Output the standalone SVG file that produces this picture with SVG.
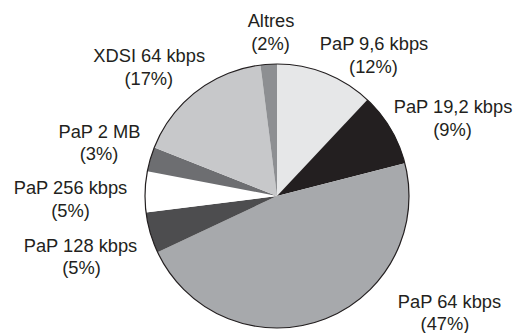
<svg xmlns="http://www.w3.org/2000/svg" width="518" height="333" viewBox="0 0 518 333">
<style>
text{font-family:"Liberation Sans",Arial,sans-serif;font-size:18.3px;fill:#231f20;text-anchor:middle}
.s{stroke:none}
</style>
<rect width="518" height="333" fill="#ffffff"/>
<g id="pie">
<g id="slice-pap96"><path class="s" fill="#e6e7e8" d="M277,196 L277,64 A132,132 0 0 1 367.36,99.78 Z"/></g>
<g id="slice-pap192"><path class="s" fill="#231f20" d="M277,196 L367.36,99.78 A132,132 0 0 1 404.85,163.17 Z"/></g>
<g id="slice-pap64"><path class="s" fill="#a7a9ac" d="M277,196 L404.85,163.17 A132,132 0 0 1 157.56,252.2 Z"/></g>
<g id="slice-pap128"><path class="s" fill="#4d4d4f" d="M277,196 L157.56,252.2 A132,132 0 0 1 146.04,212.54 Z"/></g>
<g id="slice-pap256"><path class="s" fill="#ffffff" d="M277,196 L146.04,212.54 A132,132 0 0 1 147.34,171.27 Z"/></g>
<g id="slice-pap2mb"><path class="s" fill="#6d6e71" d="M277,196 L147.34,171.27 A132,132 0 0 1 154.27,147.41 Z"/></g>
<g id="slice-xdsi"><path class="s" fill="#c7c8ca" d="M277,196 L154.27,147.41 A132,132 0 0 1 260.46,65.04 Z"/></g>
<g id="slice-altres"><path class="s" fill="#8d8f92" d="M277,196 L260.46,65.04 A132,132 0 0 1 277,64 Z"/></g>
<circle cx="277" cy="196" r="132" fill="none" stroke="#231f20" stroke-width="1.2"/>
</g>
<g id="labels">
<g id="label-altres"><text x="271" y="27">Altres</text><text x="270.5" y="50">(2%)</text></g>
<g id="label-pap96"><text x="374" y="50">PaP 9,6 kbps</text><text x="373.5" y="72.5">(12%)</text></g>
<g id="label-pap192"><text x="453" y="113">PaP 19,2 kbps</text><text x="452.5" y="135.5">(9%)</text></g>
<g id="label-pap64"><text x="449.5" y="308">PaP 64 kbps</text><text x="445" y="330">(47%)</text></g>
<g id="label-pap128"><text x="80.5" y="251.5">PaP 128 kbps</text><text x="81.5" y="273.5">(5%)</text></g>
<g id="label-pap256"><text x="70.5" y="194">PaP 256 kbps</text><text x="70.5" y="216.5">(5%)</text></g>
<g id="label-pap2mb"><text x="99.5" y="137.5">PaP 2 MB</text><text x="99" y="160">(3%)</text></g>
<g id="label-xdsi"><text x="149.2" y="62.3">XDSI 64 kbps</text><text x="148.8" y="84.5">(17%)</text></g>
</g>
</svg>
